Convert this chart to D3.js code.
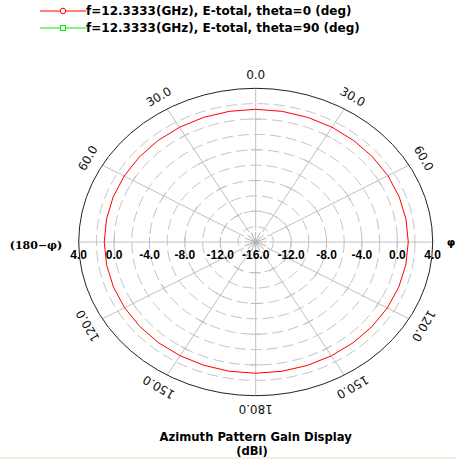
<!DOCTYPE html>
<html>
<head>
<meta charset="utf-8">
<script src="https://cdn.jsdelivr.net/npm/d3@7"></script>
<style>
  html, body { margin: 0; padding: 0; background: #ffffff; }
  svg { display: block; }
</style>
</head>
<body>
<script>
// Azimuth pattern: gain (dBi) versus phi (deg)
const phiDeg = [0, 10, 20, 30, 40, 50, 60, 70, 80, 90, 100, 110, 120, 130, 140, 150, 160, 170,
                180, 190, 200, 210, 220, 230, 240, 250, 260, 270, 280, 290, 300, 310, 320, 330, 340, 350];
const gainTheta0 = [1.27, 1.26, 1.25, 1.24, 1.23, 1.24, 1.25, 1.25, 1.24, 1.24, 1.22, 1.20, 1.17, 1.14, 1.12, 1.10, 1.09, 1.08,
                    1.08, 1.08, 1.08, 1.09, 1.10, 1.10, 1.11, 1.11, 1.11, 1.11, 1.12, 1.14, 1.16, 1.19, 1.21, 1.23, 1.25, 1.26];

const legendLabels = ["f=12.3333(GHz), E-total, theta=0 (deg)", "f=12.3333(GHz), E-total, theta=90 (deg)"];
const legendColors = ["#ff0000", "#00ee00"];

const radialTicks = [-16, -12, -8, -4, 0, 4];          // labelled rings
const ringLevels = [-14, -12, -10, -8, -6, -4, -2, 0, 2]; // dashed rings
const tickRings = [-12, -8, -4, 0];                       // cross ticks on spokes
const angleTicks = [0, 30, 60, 90, 120, 150, 180, 210, 240, 270, 300, 330];
const angleLabels = ["0.0", "30.0", "60.0", "\u03c6", "120.0", "150.0", "180.0", "150.0", "120.0", "(180\u2212\u03c6)", "60.0", "30.0"];

const W = 456, H = 459;
const cx = 255.7, cy = 242, rx = 177, ry = 153.7;

const svg = d3.select("body").append("svg").attr("width", W).attr("height", H);

// normalised radius from gain
const rScale = d3.scaleLinear().domain([-16, 4]).range([0, 1]);
const toRad = d => d * Math.PI / 180;
const px = (a, f) => cx + rx * f * Math.sin(toRad(a));
const py = (a, f) => cy - ry * f * Math.cos(toRad(a));

const grid = svg.append("g");

// dashed rings
grid.selectAll("ellipse.ring").data(ringLevels).enter().append("ellipse")
  .attr("cx", cx).attr("cy", cy)
  .attr("rx", d => rx * rScale(d)).attr("ry", d => ry * rScale(d))
  .attr("fill", "none").attr("stroke", "#c4c4c4").attr("stroke-width", 1)
  .attr("stroke-dasharray", "11,5");

// spokes every 30 degrees
grid.selectAll("line.spoke").data(angleTicks).enter().append("line")
  .attr("x1", a => px(a, rScale(-14.5))).attr("y1", a => py(a, rScale(-14.5)))
  .attr("x2", a => px(a, 1)).attr("y2", a => py(a, 1))
  .attr("stroke", "#c0c0c0").attr("stroke-width", 1);

// perpendicular cross ticks on spokes
const crossData = [];
angleTicks.forEach(a => tickRings.forEach(v => crossData.push({ a, v })));
grid.selectAll("line.cross").data(crossData).enter().append("line")
  .each(function (d) {
    const x0 = px(d.a, rScale(d.v)), y0 = py(d.a, rScale(d.v));
    const t = toRad(d.a), L = 5;
    d3.select(this)
      .attr("x1", x0 - L * Math.cos(t)).attr("y1", y0 - L * Math.sin(t))
      .attr("x2", x0 + L * Math.cos(t)).attr("y2", y0 + L * Math.sin(t));
  })
  .attr("stroke", "#bdbdbd").attr("stroke-width", 1);

// centre star
const starAngles = d3.range(0, 360, 22.5);
grid.selectAll("line.star").data(starAngles).enter().append("line")
  .attr("x1", cx).attr("y1", cy)
  .attr("x2", a => px(a, rScale(-14.7))).attr("y2", a => py(a, rScale(-14.7)))
  .attr("stroke", "#b0b0b0").attr("stroke-width", 1);

// outer boundary
svg.append("ellipse").attr("cx", cx).attr("cy", cy).attr("rx", rx).attr("ry", ry)
  .attr("fill", "none").attr("stroke", "#222").attr("stroke-width", 1);

// pattern trace
const pts = phiDeg.map((a, i) => [px(a, rScale(gainTheta0[i])), py(a, rScale(gainTheta0[i]))]);
svg.append("path")
  .attr("d", d3.line().curve(d3.curveLinearClosed)(pts))
  .attr("fill", "none").attr("stroke", legendColors[0]).attr("stroke-width", 1);

// radial tick labels along horizontal diameter
const radialLabelData = [];
radialTicks.forEach(v => {
  radialLabelData.push({ v, side: -1 });
  if (v !== -16) radialLabelData.push({ v, side: 1 });
});
svg.selectAll("text.rad").data(radialLabelData).enter().append("text")
  .attr("x", d => cx + d.side * rx * rScale(d.v))
  .attr("y", cy + 17)
  .attr("text-anchor", "middle")
  .attr("font-family", "'Liberation Sans', Arial, sans-serif")
  .attr("font-weight", "bold").attr("font-size", 12)
  .attr("fill", "#000")
  .text(d => d.v.toFixed(1));

// angle labels
const lrx = rx + 17, lry = ry + 14;
svg.selectAll("text.ang").data(angleTicks.map((a, i) => ({ a, label: angleLabels[i] }))).enter().append("text")
  .each(function (d) {
    const sel = d3.select(this);
    if (d.a === 90) {
      sel.attr("x", 451).attr("y", cy + 4).attr("text-anchor", "middle")
        .attr("font-family", "'DejaVu Sans', sans-serif").attr("font-weight", "bold").attr("font-size", 11);
    } else if (d.a === 270) {
      sel.attr("x", 36).attr("y", cy + 7).attr("text-anchor", "middle")
        .attr("font-family", "'DejaVu Serif', serif").attr("font-weight", "bold").attr("font-size", 11);
    } else {
      const y = cy - lry * Math.cos(toRad(d.a));
      const xx = cx + lrx * Math.sin(toRad(d.a));
      sel.attr("transform", `translate(${xx},${y}) rotate(${d.a})`)
        .attr("text-anchor", "middle").attr("dy", "0.35em")
        .attr("font-family", "'DejaVu Sans', Verdana, sans-serif").attr("font-size", 12)
        .attr("fill", "#111");
    }
  })
  .text(d => d.label);

// legend
const legend = svg.append("g");
legendLabels.forEach((lab, i) => {
  const y = 11 + i * 17;
  legend.append("line").attr("x1", 40).attr("x2", 86).attr("y1", y).attr("y2", y)
    .attr("stroke", legendColors[i]).attr("stroke-width", 1);
  if (i === 0) {
    legend.append("circle").attr("cx", 63).attr("cy", y).attr("r", 2.8)
      .attr("fill", "#fff").attr("stroke", legendColors[i]);
  } else {
    legend.append("rect").attr("x", 60.5).attr("y", y - 2.5).attr("width", 5).attr("height", 5)
      .attr("fill", "#fff").attr("stroke", legendColors[i]);
  }
  legend.append("text").attr("x", 86).attr("y", y + 4)
    .attr("font-family", "'DejaVu Sans', Verdana, sans-serif")
    .attr("font-weight", "bold").attr("font-size", 12).attr("fill", "#000")
    .text(lab);
});

// title
svg.append("text").attr("x", cx).attr("y", 441).attr("text-anchor", "middle")
  .attr("font-family", "'DejaVu Sans', Verdana, sans-serif").attr("font-weight", "bold").attr("font-size", 11.6)
  .text("Azimuth Pattern Gain Display");
svg.append("text").attr("x", 252).attr("y", 455).attr("text-anchor", "middle")
  .attr("font-family", "'DejaVu Sans', Verdana, sans-serif").attr("font-weight", "bold").attr("font-size", 11.6)
  .text("(dBi)");

// bottom band
svg.append("rect").attr("x", 0).attr("y", 457).attr("width", W).attr("height", 2).attr("fill", "#f3eedd");
</script>
</body>
</html>
